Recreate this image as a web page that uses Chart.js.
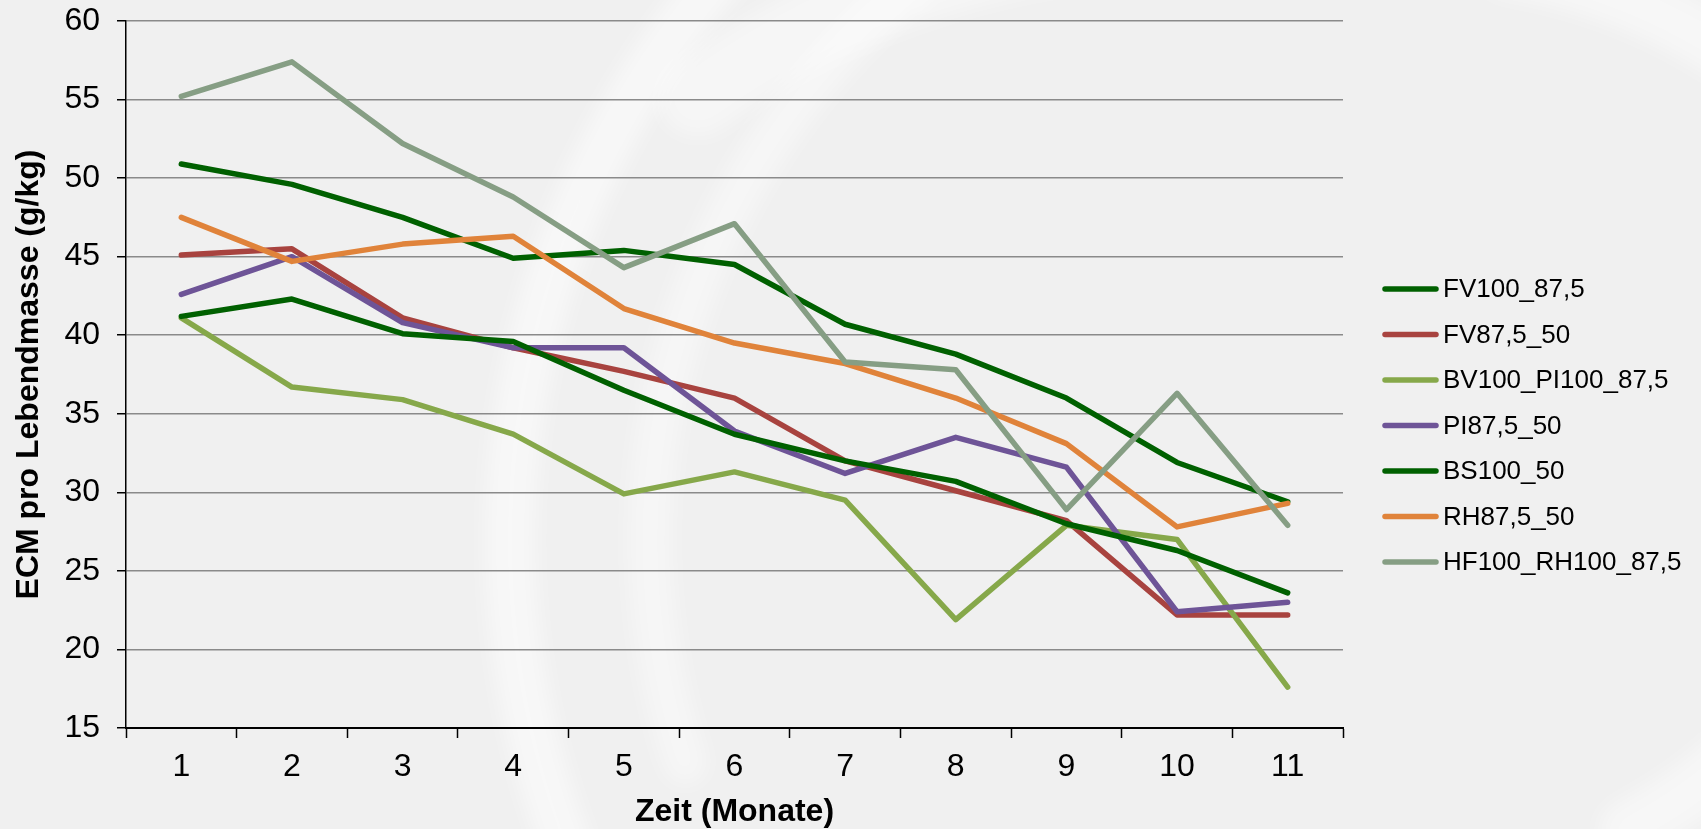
<!DOCTYPE html>
<html>
<head>
<meta charset="utf-8">
<script src="https://cdn.jsdelivr.net/npm/chart.js@4.4.1/dist/chart.umd.min.js"></script>
<style>
  html, body { margin: 0; padding: 0; background: #f0f0f0; }
  canvas { display: block; }
</style>
</head>
<body>
<canvas id="chart" width="1701" height="829"></canvas>
<script>
// months on the x axis
const months = ['1', '2', '3', '4', '5', '6', '7', '8', '9', '10', '11'];

// ECM per kg live weight, one array per breed group
const fv100_87_5   = [50.9, 49.6, 47.5, 44.9, 45.4, 44.5, 40.7, 38.8, 36.0, 31.9, 29.4];
const fv87_5_50    = [45.1, 45.5, 41.1, 39.2, 37.7, 36.0, 32.0, 30.1, 28.2, 22.2, 22.2];
const bv100_pi100  = [41.1, 36.7, 35.9, 33.7, 29.9, 31.3, 29.5, 21.9, 27.9, 27.0, 17.6];
const pi87_5_50    = [42.6, 45.0, 40.8, 39.2, 39.2, 33.9, 31.2, 33.5, 31.6, 22.4, 23.0];
const bs100_50     = [41.2, 42.3, 40.1, 39.6, 36.5, 33.7, 32.0, 30.7, 28.0, 26.3, 23.6];
const rh87_5_50    = [47.5, 44.7, 45.8, 46.3, 41.7, 39.5, 38.2, 36.0, 33.1, 27.8, 29.3];
const hf100_rh100  = [55.2, 57.4, 52.2, 48.8, 44.3, 47.1, 38.3, 37.8, 28.9, 36.3, 27.9];

const seriesNames  = ['FV100_87,5', 'FV87,5_50', 'BV100_PI100_87,5', 'PI87,5_50', 'BS100_50', 'RH87,5_50', 'HF100_RH100_87,5'];
const seriesValues = [fv100_87_5, fv87_5_50, bv100_pi100, pi87_5_50, bs100_50, rh87_5_50, hf100_rh100];
const seriesColors = ['#006000', '#a8433f', '#86a84a', '#6e5497', '#006000', '#e0833a', '#869e84'];

// y axis range
const yMin = 15, yMax = 60, yStep = 5;

const FONT = '"Liberation Sans", Arial, sans-serif';
const LINE_W = 5.5;

// grey background with the soft white swirl behind the plot
const backdrop = {
  id: 'backdrop',
  beforeDraw(chart) {
    const ctx = chart.ctx;
    ctx.save();
    ctx.fillStyle = '#f0f0f0';
    ctx.fillRect(0, 0, chart.width, chart.height);
    ctx.filter = 'blur(10px)';
    ctx.lineCap = 'round';
    ctx.strokeStyle = 'rgba(255,255,255,0.5)';
    ctx.lineWidth = 50;
    ctx.beginPath();
    ctx.arc(1372, 540, 862, Math.PI * 0.86, Math.PI * 1.25);
    ctx.stroke();
    ctx.strokeStyle = 'rgba(255,255,255,0.4)';
    ctx.lineWidth = 44;
    ctx.beginPath();
    ctx.arc(1372, 540, 722, Math.PI * 0.9, Math.PI * 1.3);
    ctx.stroke();
    ctx.strokeStyle = 'rgba(255,255,255,0.4)';
    ctx.lineWidth = 80;
    ctx.beginPath();
    ctx.arc(1180, 760, 820, Math.PI * 1.3, Math.PI * 1.55);
    ctx.stroke();
    ctx.strokeStyle = 'rgba(255,255,255,0.45)';
    ctx.lineWidth = 60;
    ctx.beginPath();
    ctx.arc(1420, 520, 560, Math.PI * 1.55, Math.PI * 1.95);
    ctx.stroke();
    ctx.beginPath();
    ctx.arc(1420, 420, 460, Math.PI * 0.05, Math.PI * 0.35);
    ctx.stroke();
    ctx.restore();
  }
};

// line legend on the right
const lineLegend = {
  id: 'lineLegend',
  afterDraw(chart) {
    const ctx = chart.ctx;
    const x0 = chart.chartArea.right + 42;
    ctx.save();
    ctx.font = '26px ' + FONT;
    ctx.textBaseline = 'middle';
    ctx.lineCap = 'round';
    chart.data.datasets.forEach((ds, i) => {
      const y = 289 + i * 45.5;
      ctx.strokeStyle = ds.borderColor;
      ctx.lineWidth = LINE_W;
      ctx.beginPath();
      ctx.moveTo(x0, y);
      ctx.lineTo(x0 + 51, y);
      ctx.stroke();
      ctx.fillStyle = '#000';
      ctx.fillText(ds.label, x0 + 58, y + 1);
    });
    ctx.restore();
  }
};

const datasets = seriesNames.map((name, i) => ({
  label: name,
  data: seriesValues[i],
  borderColor: seriesColors[i],
  backgroundColor: seriesColors[i],
  borderWidth: LINE_W,
  borderCapStyle: 'round',
  borderJoinStyle: 'round',
  pointRadius: 0,
  tension: 0,
  fill: false,
  order: seriesNames.length - i
}));

new Chart(document.getElementById('chart'), {
  type: 'line',
  data: { labels: months, datasets: datasets },
  plugins: [backdrop, lineLegend],
  options: {
    responsive: false,
    animation: false,
    devicePixelRatio: 1,
    layout: { padding: { left: 0, top: 21, right: 358, bottom: 0 } },
    plugins: { legend: { display: false }, tooltip: { enabled: false } },
    scales: {
      x: {
        offset: true,
        afterFit(scale) {
          scale.height = 101;
          scale.paddingLeft = 0;
          scale.paddingRight = 0;
        },
        grid: {
          offset: true,
          drawOnChartArea: false,
          drawTicks: true,
          tickLength: 10,
          tickColor: '#000',
          tickWidth: 1.5
        },
        border: { color: '#000', width: 2 },
        ticks: { color: '#000', font: { family: FONT, size: 32 }, padding: 10, maxRotation: 0 },
        title: {
          display: true,
          text: 'Zeit (Monate)',
          color: '#000',
          font: { family: FONT, size: 32, weight: 'bold', lineHeight: 1 },
          padding: { top: 0, bottom: 1 }
        }
      },
      y: {
        min: yMin,
        max: yMax,
        afterFit(scale) {
          scale.width = 126;
          scale.paddingTop = 0;
          scale.paddingBottom = 0;
        },
        ticks: { stepSize: yStep, color: '#000', font: { family: FONT, size: 32 }, padding: 17 },
        grid: {
          color: '#8a8a8a',
          lineWidth: 1.5,
          tickColor: '#000',
          tickLength: 9,
          tickWidth: 1.5
        },
        border: { color: '#000', width: 1.5 },
        title: {
          display: true,
          text: 'ECM pro Lebendmasse (g/kg)',
          color: '#000',
          font: { family: FONT, size: 32, weight: 'bold', lineHeight: 1 },
          padding: { top: 13, bottom: 0 }
        }
      }
    }
  }
});
</script>
</body>
</html>
